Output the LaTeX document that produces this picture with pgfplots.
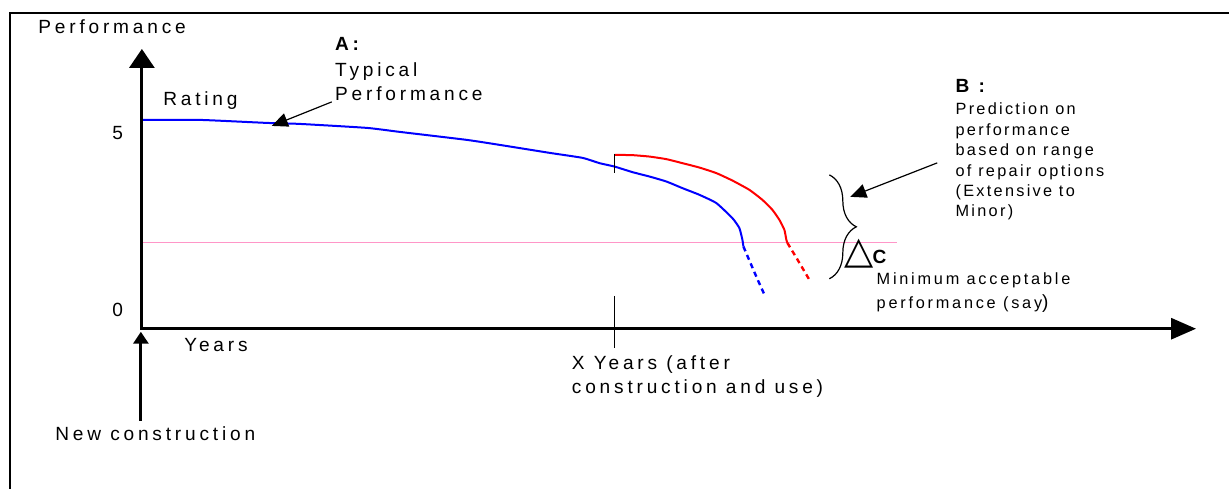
\documentclass[border=0pt]{standalone}
\usepackage{pgfplots}
\pgfplotsset{compat=1.18}
\usepackage{fontspec}
\setmainfont{Liberation Sans}
\newfontfamily\trk[LetterSpace=20]{Liberation Sans}
\newfontfamily\trks[LetterSpace=17]{Liberation Sans}
\newfontfamily\trkb[LetterSpace=14]{Liberation Sans}
\newfontfamily\dejavu{DejaVu Sans}
\usetikzlibrary{arrows.meta,decorations.pathreplacing}
\definecolor{perfblue}{RGB}{0,0,255}
\definecolor{perfred}{RGB}{255,0,0}
\definecolor{minpink}{RGB}{255,150,200}
\newcommand\BigF{\fontsize{9.55}{11}\trk}
\newcommand\SmF{\fontsize{8.15}{10}\trks}
\newcommand\BF{\fontsize{8.15}{10}\trkb}
\begin{document}
\begin{tikzpicture}
\begin{axis}[
  scale only axis, width=615pt, height=244.5pt,
  xmin=-2.84, xmax=21.76, ymin=-3.828, ymax=7.871,
  hide axis, clip=false,
  anchor=south west, at={(0,0)},
]
\path (axis cs:-2.84,-3.828) rectangle (axis cs:21.76,7.871);
% frame
\draw[line width=1pt, line join=miter] (axis cs:-2.64,-3.828) -- (axis cs:-2.64,7.56) -- (axis cs:21.76,7.56);

% minimum acceptable performance
\addplot[minpink, line width=0.6pt] coordinates {(0,2.057) (15.12,2.057)};

% A: typical performance
\addplot[perfblue, line width=1pt, smooth, tension=0.3] coordinates {
 (0,5.0) (1.16,5.0) (2.5,4.928) (3.16,4.904) (4.5,4.809) (5.16,4.713)
 (6.5,4.522) (7.16,4.402) (8.16,4.211) (8.82,4.091) (9.16,3.964) (9.46,3.883)
 (9.82,3.749) (10.16,3.644) (10.5,3.524) (10.82,3.366) (11.16,3.206)
 (11.5,3.007) (11.82,2.648) (11.96,2.409) (12.02,2.129) (12.04,1.969)};
\addplot[perfblue, line width=1.2pt, dash pattern=on 2.6pt off 2pt, smooth] coordinates {
 (12.04,1.969) (12.3,1.244) (12.48,0.766)};

% B: after repair
\addplot[perfred, line width=1pt, smooth, tension=0.3] coordinates {
 (9.46,4.163) (9.82,4.156) (10.16,4.122) (10.5,4.060) (10.82,3.964)
 (11.16,3.859) (11.5,3.725) (11.82,3.548) (12.16,3.325) (12.42,3.086)
 (12.62,2.847) (12.76,2.608) (12.86,2.368) (12.9,2.129) (12.92,2.057)};
\addplot[perfred, line width=1.2pt, dash pattern=on 2.6pt off 2pt, smooth] coordinates {
 (12.92,2.057) (13.16,1.579) (13.36,1.172)};

% axes
\draw[line width=1.5pt, -{Triangle[length=9.5pt,width=12.5pt]}] (axis cs:0,-0.02) -- (axis cs:0,6.699);
\draw[line width=1.5pt, -{Triangle[length=12.5pt,width=10.5pt]}] (axis cs:-0.02,0) -- (axis cs:21.1,0);
\draw[line width=1.6pt, -{Triangle[length=6pt,width=7.5pt]}] (axis cs:-0.02,-2.201) -- (axis cs:-0.02,-0.072);

% ticks
\draw[line width=0.6pt] (axis cs:9.46,0.789) -- (axis cs:9.46,-0.455);
\draw[line width=0.9pt] (axis cs:9.46,4.187) -- (axis cs:9.46,3.732);

% annotation arrows
\draw[line width=0.6pt, -{Triangle[length=8pt,width=7pt]}] (axis cs:3.8,5.431) -- (axis cs:2.6,4.856);
\draw[line width=0.6pt, -{Triangle[length=8pt,width=7pt]}] (axis cs:15.92,3.971) -- (axis cs:14.18,3.158);

% brace
\draw[line width=0.6pt, decorate, decoration={brace, amplitude=13.5pt}] (axis cs:13.76,3.684) -- (axis cs:13.76,1.196);

% texts
\begin{scope}[every node/.style={anchor=base west, inner sep=0pt, font=\BigF}]
\node at (axis cs:-2.08,7.057) {Performance};
\node at (axis cs:0.42,5.335) {Rating};
\node at (axis cs:-0.60,4.522) {5};
\node at (axis cs:-0.60,0.287) {0};
\node at (axis cs:3.86,6.651) {\bfseries A:};
\node at (axis cs:3.86,6.029) {Typical};
\node at (axis cs:3.86,5.455) {Performance};
\node at (axis cs:16.28,5.646) {\bfseries B :};
\node[font=\BF] at (axis cs:16.28,5.120) {Prediction on};
\node[font=\BF] at (axis cs:16.28,4.617) {performance};
\node[font=\BF] at (axis cs:16.28,4.139) {based on range};
\node[font=\BF] at (axis cs:16.28,3.644) {of repair options};
\node[font=\BF] at (axis cs:16.28,3.165) {(Extensive to};
\node[font=\BF] at (axis cs:16.28,2.687) {Minor)};
\node[font=\fontsize{19}{20}\dejavu] at (axis cs:14.06,1.555) {△};
\node at (axis cs:14.62,1.555) {\bfseries C};
\node[font=\SmF] at (axis cs:14.70,1.053) {Minimum acceptable};
\node[font=\SmF] at (axis cs:14.70,0.478) {performance (say\BigF)};
\node at (axis cs:0.84,-0.550) {Years};
\node at (axis cs:8.60,-0.981) {X Years (after};
\node at (axis cs:8.60,-1.555) {construction and use)};
\node at (axis cs:-1.74,-2.679) {New construction};
\end{scope}
\end{axis}
\end{tikzpicture}
\end{document}
